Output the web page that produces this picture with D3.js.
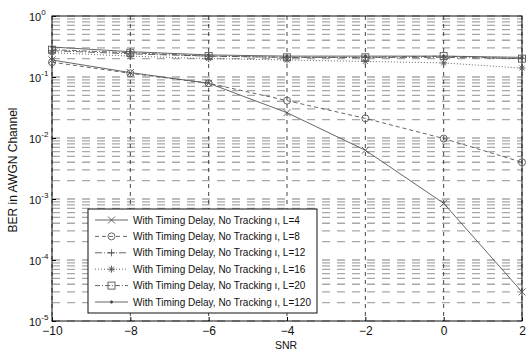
<!DOCTYPE html>
<html>
<head>
<meta charset="utf-8">
<script src="https://cdn.jsdelivr.net/npm/d3@7"></script>
<style>
  body { margin: 0; background: #fff; }
  text { font-family: "Liberation Sans", Arial, sans-serif; fill: #111; }
</style>
</head>
<body>
<script>
var w = 528;
var h = 351;
var pLeft = 52, pRight = 522, pTop = 16, pBottom = 321;

// data
var snr = [-10, -8, -6, -4, -2, 0, 2];
var berL4 = [0.19, 0.118, 0.079, 0.026, 0.0063, 0.00085, 0.00003];
var berL8 = [0.175, 0.115, 0.079, 0.041, 0.021, 0.0098, 0.004];
var berL12 = [0.27, 0.24, 0.22, 0.21, 0.21, 0.21, 0.2];
var berL16 = [0.25, 0.22, 0.2, 0.19, 0.18, 0.17, 0.14];
var berL20 = [0.28, 0.25, 0.22, 0.21, 0.21, 0.22, 0.2];
var berL120 = [0.31, 0.26, 0.23, 0.22, 0.22, 0.22, 0.21];
var legendLabels = [
  "With Timing Delay, No Tracking \u0131, L=4",
  "With Timing Delay, No Tracking \u0131, L=8",
  "With Timing Delay, No Tracking \u0131, L=12",
  "With Timing Delay, No Tracking \u0131, L=16",
  "With Timing Delay, No Tracking \u0131, L=20",
  "With Timing Delay, No Tracking \u0131, L=120"
];
var xTicks = [-10, -8, -6, -4, -2, 0, 2];
var yExps = [0, -1, -2, -3, -4, -5];

var series = [
  { v: berL4, dash: null, marker: "x" },
  { v: berL8, dash: "4,3", marker: "o" },
  { v: berL12, dash: "7,2,1,2", marker: "+" },
  { v: berL16, dash: "1,2", marker: "*" },
  { v: berL20, dash: "5,2,1,2", marker: "s" },
  { v: berL120, dash: null, marker: "." }
];

var xScale = d3.scaleLinear().domain([-10, 2]).range([pLeft, pRight]);
var yScale = d3.scaleLog().domain([1e-5, 1]).range([pBottom, pTop]);

var svg = d3.select("body").append("svg")
  .attr("width", w)
  .attr("height", h);

svg.append("rect").attr("width", w).attr("height", h).attr("fill", "#fff");

// log grid: majors and minors
var gridVals = [];
for (var e = -5; e < 0; e++) {
  for (var m = 1; m < 10; m++) gridVals.push(m * Math.pow(10, e));
}
gridVals.push(1);

svg.append("g").selectAll("line")
  .data(gridVals)
  .enter()
  .append("line")
  .attr("x1", pLeft).attr("x2", pRight)
  .attr("y1", function(d) { return yScale(d); })
  .attr("y2", function(d) { return yScale(d); })
  .attr("stroke", "#a8a8a8")
  .attr("stroke-width", 1.3)
  .attr("stroke-dasharray", "8,7");

svg.append("g").selectAll("line")
  .data(xTicks)
  .enter()
  .append("line")
  .attr("x1", function(d) { return xScale(d); })
  .attr("x2", function(d) { return xScale(d); })
  .attr("y1", pTop).attr("y2", pBottom)
  .attr("stroke", "#444")
  .attr("stroke-width", 1)
  .attr("stroke-dasharray", "4,4");

// axes
var xAxis = d3.axisBottom(xScale).tickValues(xTicks).tickSize(-4).tickFormat(d3.format("d"));
var gx = svg.append("g").attr("transform", "translate(0," + pBottom + ")").call(xAxis);
gx.select(".domain").remove();
gx.selectAll("text").attr("font-size", 12).attr("dy", "0.95em").style("font-family", "Liberation Sans, Arial, sans-serif");

var yAxis = d3.axisLeft(yScale).tickValues(yExps.map(function(d) { return Math.pow(10, d); })).tickSize(-4).tickFormat("");
var gy = svg.append("g").attr("transform", "translate(" + pLeft + ",0)").call(yAxis);
gy.select(".domain").remove();

var yLab = svg.append("g").selectAll("text")
  .data(yExps)
  .enter()
  .append("text")
  .attr("x", 29)
  .attr("y", function(d) { return yScale(Math.pow(10, d)) + 5; })
  .attr("font-size", 11);
yLab.append("tspan").text("10");
yLab.append("tspan").attr("dy", -6).attr("font-size", 8).text(function(d) { return d; });

svg.append("rect")
  .attr("x", pLeft).attr("y", pTop)
  .attr("width", pRight - pLeft).attr("height", pBottom - pTop)
  .attr("fill", "none").attr("stroke", "#111").attr("stroke-width", 1);

svg.append("text").attr("x", 286).attr("y", 349).attr("text-anchor", "middle")
  .attr("font-size", 10.5).text("SNR");
svg.append("text").attr("transform", "translate(17,170) rotate(-90)").attr("text-anchor", "middle")
  .attr("font-size", 12).text("BER in AWGN Channel");

// markers
function drawMarker(g, type, cx, cy) {
  var s = 3.5;
  if (type == "x") {
    g.append("path").attr("d", "M" + (cx - s) + "," + (cy - s) + "L" + (cx + s) + "," + (cy + s) + "M" + (cx - s) + "," + (cy + s) + "L" + (cx + s) + "," + (cy - s));
  } else if (type == "o") {
    g.append("circle").attr("cx", cx).attr("cy", cy).attr("r", s).attr("fill", "none");
  } else if (type == "+") {
    g.append("path").attr("d", "M" + (cx - s) + "," + cy + "L" + (cx + s) + "," + cy + "M" + cx + "," + (cy - s) + "L" + cx + "," + (cy + s));
  } else if (type == "*") {
    g.append("path").attr("d", "M" + (cx - s) + "," + cy + "L" + (cx + s) + "," + cy + "M" + cx + "," + (cy - s) + "L" + cx + "," + (cy + s)
      + "M" + (cx - 2.5) + "," + (cy - 2.5) + "L" + (cx + 2.5) + "," + (cy + 2.5) + "M" + (cx - 2.5) + "," + (cy + 2.5) + "L" + (cx + 2.5) + "," + (cy - 2.5));
  } else if (type == "s") {
    g.append("rect").attr("x", cx - s).attr("y", cy - s).attr("width", 2 * s).attr("height", 2 * s).attr("fill", "none");
  } else {
    g.append("circle").attr("cx", cx).attr("cy", cy).attr("r", 1.2).attr("fill", "#444");
  }
}

var line = d3.line()
  .x(function(d, i) { return xScale(snr[i]); })
  .y(function(d) { return yScale(d); });

series.forEach(function(s) {
  var g = svg.append("g").attr("stroke", "#555").attr("fill", "none").attr("stroke-width", 0.9);
  g.append("path").attr("d", line(s.v)).attr("stroke-dasharray", s.dash);
  s.v.forEach(function(d, i) { drawMarker(g, s.marker, xScale(snr[i]), yScale(d)); });
});

// legend
var lg = svg.append("g");
lg.append("rect").attr("x", 88).attr("y", 209).attr("width", 229).attr("height", 104)
  .attr("fill", "#fff").attr("stroke", "#111").attr("stroke-width", 1);
series.forEach(function(s, i) {
  var yy = 220 + i * 16.4;
  var g = lg.append("g").attr("stroke", "#555").attr("fill", "none").attr("stroke-width", 0.9);
  g.append("line").attr("x1", 95).attr("x2", 128).attr("y1", yy).attr("y2", yy).attr("stroke-dasharray", s.dash);
  drawMarker(g, s.marker, 111.5, yy);
  lg.append("text").attr("x", 133).attr("y", yy + 3.5).attr("font-size", 10).text(legendLabels[i]);
});
</script>
</body>
</html>
